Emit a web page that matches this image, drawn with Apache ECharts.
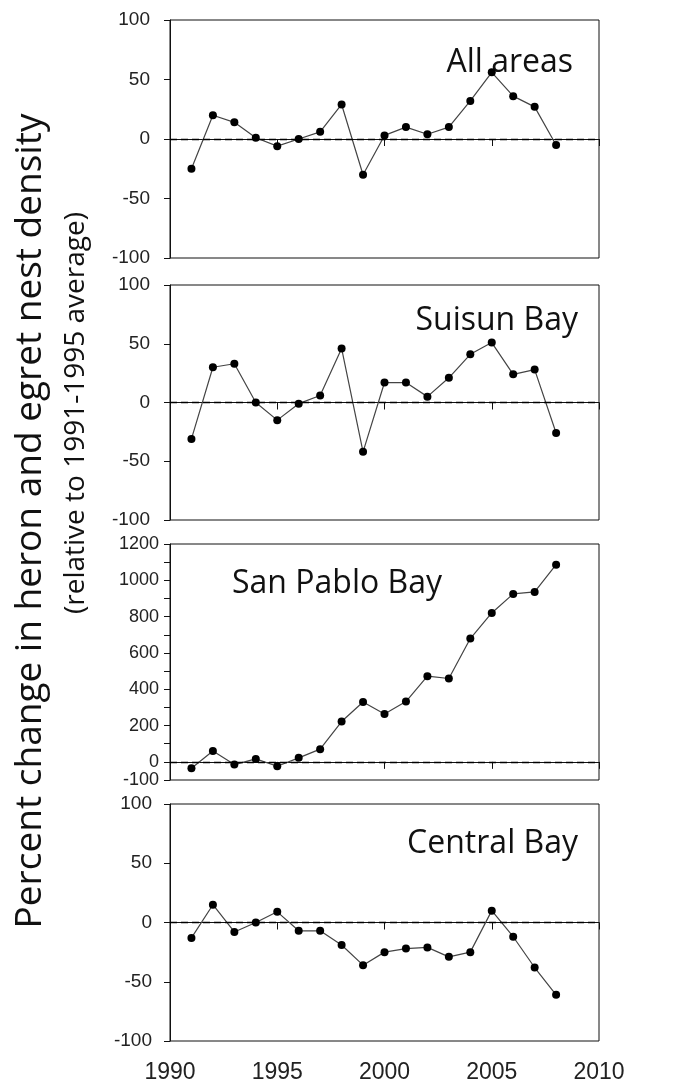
<!DOCTYPE html>
<html>
<head>
<meta charset="utf-8">
<script src="https://cdn.jsdelivr.net/npm/echarts@6/dist/echarts.min.js"></script>
<style>
  html, body { margin: 0; padding: 0; background: #fff; }
  #chart { width: 676px; height: 1086px; }
</style>
</head>
<body>
<div id="chart"></div>
<script>
var years = [1991, 1992, 1993, 1994, 1995, 1996, 1997, 1998, 1999, 2000, 2001, 2002, 2003, 2004, 2005, 2006, 2007, 2008];
var allAreas = [-25, 20, 14, 1, -6, 0, 6, 29, -30, 3, 10, 4, 10, 32, 56, 36, 27, -5];
var suisunBay = [-31, 30, 33, 0, -15, -1, 6, 46, -42, 17, 17, 5, 21, 41, 51, 24, 28, -26];
var sanPabloBay = [-35, 60, -15, 16, -24, 22, 70, 222, 330, 264, 332, 472, 459, 679, 820, 925, 936, 1086];
var centralBay = [-13, 15, -8, 0, 9, -7, -7, -19, -36, -25, -22, -21, -29, -25, 10, -12, -38, -61];
var panelNames = ['All areas', 'Suisun Bay', 'San Pablo Bay', 'Central Bay'];
var yTitle = 'Percent change in heron and egret nest density';
var ySubTitle = '(relative to 1991-1995 average)';

(function() {
  var ink = '#111';
  var labelFont = '"Liberation Sans", Arial, sans-serif';
  var titleFont = '"Open Sans", "Noto Sans", sans-serif';

  // panel boxes: top and height in pixels
  var panels = [
    { top: 20, height: 238, data: allAreas, min: -100, max: 100, step: 50, margin: 20, font: 19 },
    { top: 285, height: 235, data: suisunBay, min: -100, max: 100, step: 50, margin: 20, font: 19 },
    { top: 544, height: 236, data: sanPabloBay, min: -100, max: 1200, step: 100, margin: 11, font: 18 },
    { top: 804, height: 237, data: centralBay, min: -100, max: 100, step: 50, margin: 18, font: 19 }
  ];

  var grids = [], xAxes = [], yAxes = [], series = [];
  panels.forEach(function(p, i) {
    grids.push({
      left: 170, right: 77, top: p.top, height: p.height,
      show: true, borderColor: ink, borderWidth: 1, backgroundColor: 'transparent'
    });
    xAxes.push({
      type: 'value', gridIndex: i, min: 1990, max: 2010, interval: 5,
      axisLine: { show: true, lineStyle: { color: ink, width: 1 } },
      axisTick: { show: true, length: 7, lineStyle: { color: ink } },
      axisLabel: {
        show: i === 3, color: '#222', fontSize: 23, fontFamily: labelFont, margin: 20,
        formatter: function(v) { return String(v); }
      },
      splitLine: { show: false }
    });
    yAxes.push({
      type: 'value', gridIndex: i, min: p.min, max: p.max, interval: p.step,
      axisLine: { show: true, lineStyle: { color: ink, width: 1 } },
      axisTick: { show: true, length: 6, lineStyle: { color: ink } },
      axisLabel: {
        color: '#222', fontSize: p.font, fontFamily: labelFont, margin: p.margin,
        formatter: function(v) {
          if (p.step === 100 && v % 200 !== 0 && v !== -100) return '';
          return String(v);
        }
      },
      splitLine: { show: false }
    });
    series.push({
      type: 'line',
      xAxisIndex: i, yAxisIndex: i,
      data: years.map(function(y, k) { return [y, p.data[k]]; }),
      symbol: 'circle', symbolSize: 8,
      itemStyle: { color: '#000' },
      lineStyle: { color: '#444', width: 1.2 },
      markLine: {
        silent: true, symbol: ['none', 'none'], label: { show: false },
        lineStyle: { color: '#000', type: [7, 4], width: 1.3 },
        data: [{ yAxis: 0 }]
      },
      z: 3
    });
  });

  var titleText = function(text, x, y, align) {
    return {
      type: 'text', x: x, y: y,
      style: { text: text, fill: '#111', font: '32px ' + titleFont, align: align, verticalAlign: 'middle' }
    };
  };

  var chart = echarts.init(document.getElementById('chart'), null, { renderer: 'canvas' });
  chart.setOption({
    animation: false,
    grid: grids,
    xAxis: xAxes,
    yAxis: yAxes,
    series: series,
    graphic: [
      titleText(panelNames[0], 573, 63, 'right'),
      titleText(panelNames[1], 578, 321, 'right'),
      titleText(panelNames[2], 232, 584, 'left'),
      titleText(panelNames[3], 578, 844, 'right'),
      {
        type: 'text', x: 30, y: 521, rotation: Math.PI / 2,
        style: { text: yTitle, fill: '#111', font: '37px ' + titleFont, align: 'center', verticalAlign: 'middle' }
      },
      {
        type: 'text', x: 76, y: 413, rotation: Math.PI / 2,
        style: { text: ySubTitle, fill: '#111', font: '28px ' + titleFont, align: 'center', verticalAlign: 'middle' }
      }
    ]
  });
  window.addEventListener('resize', function() { chart.resize(); });
})();
</script>
</body>
</html>
